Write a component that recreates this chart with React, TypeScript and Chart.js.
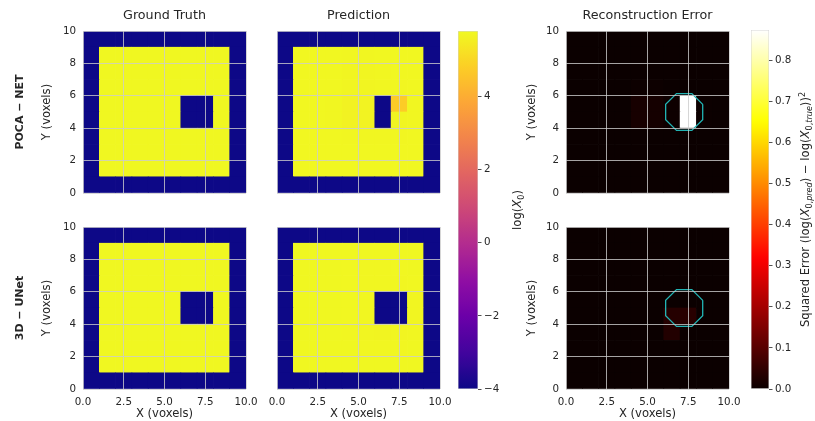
import React, { useEffect, useRef } from 'react';
import { Chart, registerables } from 'chart.js';

Chart.register(...registerables);
Chart.defaults.font.family = '"DejaVu Sans", sans-serif';
Chart.defaults.color = '#262626';

// ---------------- data ----------------
const X_TICKS = [0, 2.5, 5, 7.5, 10];
const Y_TICKS = [0, 2, 4, 6, 8, 10];
const LOGX0_TICKS = [-4, -2, 0, 2, 4];
const ERROR_TICKS = [0, 0.1, 0.2, 0.3, 0.4, 0.5, 0.6, 0.7, 0.8];
const LOGX0_LIMITS = [-4, 5.79];
const ERROR_LIMITS = [0, 0.873];
const VOXEL_LIMITS = [0, 10];

const COLUMN_TITLES = ['Ground Truth', 'Prediction', 'Reconstruction Error'];
const ROW_LABELS = ['POCA \u2212 NET', '3D \u2212 UNet'];
const X_LABEL = 'X (voxels)';
const Y_LABEL = 'Y (voxels)';

// true object outline (circle drawn as an octagon)
const OBJECT_CENTER = [7.25, 5.0];
const OBJECT_RADIUS = 1.23;
const OBJECT_SIDES = 8;

// grids: rows listed from y = 9 (top) down to y = 0 (bottom), columns x = 0..9
const GROUND_TRUTH = [
  [-4, -4, -4, -4, -4, -4, -4, -4, -4, -4],
  [-4, 5.75, 5.75, 5.75, 5.75, 5.75, 5.75, 5.75, 5.75, -4],
  [-4, 5.75, 5.75, 5.75, 5.75, 5.75, 5.75, 5.75, 5.75, -4],
  [-4, 5.75, 5.75, 5.75, 5.75, 5.75, 5.75, 5.75, 5.75, -4],
  [-4, 5.75, 5.75, 5.75, 5.75, 5.75, -4, -4, 5.75, -4],
  [-4, 5.75, 5.75, 5.75, 5.75, 5.75, -4, -4, 5.75, -4],
  [-4, 5.75, 5.75, 5.75, 5.75, 5.75, 5.75, 5.75, 5.75, -4],
  [-4, 5.75, 5.75, 5.75, 5.75, 5.75, 5.75, 5.75, 5.75, -4],
  [-4, 5.75, 5.75, 5.75, 5.75, 5.75, 5.75, 5.75, 5.75, -4],
  [-4, -4, -4, -4, -4, -4, -4, -4, -4, -4],
];

const POCA_PREDICTION = [
  [-4, -4, -4, -4, -4, -4, -4, -4, -4, -4],
  [-4, 5.74, 5.74, 5.74, 5.73, 5.73, 5.74, 5.74, 5.74, -4],
  [-4, 5.74, 5.74, 5.74, 5.71, 5.7, 5.72, 5.74, 5.74, -4],
  [-4, 5.74, 5.74, 5.74, 5.7, 5.69, 5.72, 5.73, 5.74, -4],
  [-4, 5.74, 5.74, 5.73, 5.62, 5.66, -4, 4.75, 5.72, -4],
  [-4, 5.74, 5.74, 5.73, 5.62, 5.66, -4, 5.69, 5.73, -4],
  [-4, 5.74, 5.74, 5.74, 5.72, 5.72, 5.72, 5.73, 5.74, -4],
  [-4, 5.74, 5.74, 5.74, 5.74, 5.74, 5.74, 5.74, 5.74, -4],
  [-4, 5.74, 5.74, 5.74, 5.74, 5.74, 5.74, 5.74, 5.74, -4],
  [-4, -4, -4, -4, -4, -4, -4, -4, -4, -4],
];

const UNET_PREDICTION = [
  [-4, -4, -4, -4, -4, -4, -4, -4, -4, -4],
  [-4, 5.75, 5.75, 5.75, 5.75, 5.75, 5.75, 5.75, 5.75, -4],
  [-4, 5.75, 5.75, 5.75, 5.74, 5.73, 5.73, 5.74, 5.75, -4],
  [-4, 5.75, 5.75, 5.75, 5.74, 5.73, 5.72, 5.72, 5.74, -4],
  [-4, 5.75, 5.75, 5.75, 5.74, 5.73, -4, -4, 5.7, -4],
  [-4, 5.75, 5.75, 5.75, 5.74, 5.72, -4, -4, 5.71, -4],
  [-4, 5.75, 5.75, 5.75, 5.73, 5.71, 5.68, 5.7, 5.73, -4],
  [-4, 5.75, 5.75, 5.75, 5.75, 5.73, 5.72, 5.73, 5.75, -4],
  [-4, 5.75, 5.75, 5.75, 5.75, 5.75, 5.75, 5.75, 5.75, -4],
  [-4, -4, -4, -4, -4, -4, -4, -4, -4, -4],
];

const POCA_ERROR = [
  [0, 0, 0, 0, 0, 0, 0, 0, 0, 0],
  [0, 0, 0, 0, 0, 0, 0, 0, 0, 0],
  [0, 0, 0, 0, 0, 0, 0, 0, 0, 0],
  [0, 0, 0, 0, 0.003, 0.003, 0, 0, 0, 0],
  [0, 0, 0, 0, 0.016, 0.014, 0.004, 0.873, 0.002, 0],
  [0, 0, 0, 0, 0.016, 0.014, 0.004, 0.873, 0.002, 0],
  [0, 0, 0, 0, 0, 0, 0, 0, 0, 0],
  [0, 0, 0, 0, 0, 0, 0, 0, 0, 0],
  [0, 0, 0, 0, 0, 0, 0, 0, 0, 0],
  [0, 0, 0, 0, 0, 0, 0, 0, 0, 0],
];

const UNET_ERROR = [
  [0, 0, 0, 0, 0, 0, 0, 0, 0, 0],
  [0, 0, 0, 0, 0, 0, 0, 0, 0, 0],
  [0, 0, 0, 0, 0, 0, 0, 0, 0, 0],
  [0, 0, 0, 0, 0, 0, 0, 0, 0, 0],
  [0, 0, 0, 0, 0, 0, 0, 0, 0, 0],
  [0, 0, 0, 0, 0, 0, 0.034, 0.038, 0, 0],
  [0, 0, 0, 0, 0, 0, 0.03, 0, 0, 0],
  [0, 0, 0, 0, 0, 0, 0, 0, 0, 0],
  [0, 0, 0, 0, 0, 0, 0, 0, 0, 0],
  [0, 0, 0, 0, 0, 0, 0, 0, 0, 0],
];

// ---------------- style ----------------
const TEXT = '#262626';
const GRID = 'rgba(204,204,204,0.8)';
const OUTLINE = '#22b4b4';
const FONT_TICK = 10.3;
const FONT_LABEL = 11.6;
const FONT_TITLE = 12.7;
const FONT_ROW = 11;

const PLASMA_STOPS = ['#0d0887', '#41049d', '#6a00a8', '#8f0da4', '#b12a90', '#cc4778', '#e16462', '#f2844b', '#fca636', '#fcce25', '#f0f921'];

const clamp = (v: number) => Math.max(0, Math.min(1, v));
const hexRgb = (h: string) => [parseInt(h.slice(1, 3), 16), parseInt(h.slice(3, 5), 16), parseInt(h.slice(5, 7), 16)];
function plasma(t: number): string {
  t = clamp(t);
  const p = t * (PLASMA_STOPS.length - 1);
  const i = Math.min(PLASMA_STOPS.length - 2, Math.floor(p));
  const f = p - i;
  const a = hexRgb(PLASMA_STOPS[i]);
  const b = hexRgb(PLASMA_STOPS[i + 1]);
  const c = a.map((v, k) => Math.round(v + (b[k] - v) * f));
  return `rgb(${c[0]},${c[1]},${c[2]})`;
}
function hot(t: number): string {
  t = clamp(t);
  const r = Math.min(1, 0.0416 + (t / 0.365079) * (1 - 0.0416));
  const g = clamp((t - 0.365079) / (0.746032 - 0.365079));
  const b = clamp((t - 0.746032) / (1 - 0.746032));
  return `rgb(${Math.round(r * 255)},${Math.round(g * 255)},${Math.round(b * 255)})`;
}

function octagon(center: number[], radius: number, sides: number) {
  const pts: { x: number; y: number }[] = [];
  for (let k = 0; k <= sides; k++) {
    const a = Math.PI / sides + (2 * Math.PI * k) / sides;
    pts.push({ x: center[0] + radius * Math.cos(a), y: center[1] + radius * Math.sin(a) });
  }
  return pts;
}

type Seg = { t: string; it?: boolean; sub?: boolean; sup?: boolean };
function drawRich(ctx: CanvasRenderingContext2D, cx: number, cy: number, segs: Seg[], size: number) {
  ctx.save();
  ctx.translate(cx, cy);
  ctx.rotate(-Math.PI / 2);
  ctx.fillStyle = TEXT;
  ctx.textBaseline = 'alphabetic';
  ctx.textAlign = 'left';
  const fontOf = (s: Seg) => `${s.it ? 'italic ' : ''}${(s.sub || s.sup ? 0.7 : 1) * size}px "DejaVu Sans"`;
  const widths = segs.map((s) => {
    ctx.font = fontOf(s);
    return ctx.measureText(s.t).width;
  });
  const total = widths.reduce((a, b) => a + b, 0);
  let x = -total / 2;
  const base = size * 0.3;
  segs.forEach((s, i) => {
    ctx.font = fontOf(s);
    const dy = s.sub ? 0.22 * size : s.sup ? -0.42 * size : 0;
    ctx.fillText(s.t, x, base + dy);
    x += widths[i];
  });
  ctx.restore();
}

const LOGX0_LABEL: Seg[] = [{ t: 'log(' }, { t: 'X', it: true }, { t: '0', sub: true }, { t: ')' }];
const ERROR_LABEL: Seg[] = [
  { t: 'Squared Error (log(' }, { t: 'X', it: true }, { t: '0,', sub: true }, { t: 'pred', sub: true, it: true },
  { t: ') \u2212 log(' }, { t: 'X', it: true }, { t: '0,', sub: true }, { t: 'true', sub: true, it: true },
  { t: '))' }, { t: '2', sup: true },
];

// ---------------- layout ----------------
const PLOT_W = 163;
const PLOT_H = 162;
const RIGHT_PAD = 20;
const COL_PLOT_LEFT = [83, 277, 566];
const COL_CANVAS_LEFT = [0, 257, 510];
const COL_Y_TITLE_PAD = [8, 0, 15];
const ROW_PLOT_TOP = [31, 227];
const ROW_CANVAS_TOP = [0, 208];
const ROW_BOTTOM_H = [16, 32];
const ROW_LABEL_W = 32;

type Box = { left: number; top: number; width: number; height: number };

interface PanelSpec {
  values: number[][];
  cmap: (t: number) => string;
  limits: number[];
  col: number;
  row: number;
  outline: boolean;
}

function panelBox(col: number, row: number): Box {
  const left = COL_CANVAS_LEFT[col];
  const top = ROW_CANVAS_TOP[row];
  return {
    left,
    top,
    width: COL_PLOT_LEFT[col] - left + PLOT_W + RIGHT_PAD,
    height: ROW_PLOT_TOP[row] - top + PLOT_H + ROW_BOTTOM_H[row],
  };
}

function buildPanel(spec: PanelSpec) {
  const [vmin, vmax] = spec.limits;
  const n = spec.values.length;
  const datasets: any[] = [];
  for (let r = 0; r < n; r++) {
    const rowVals = spec.values[n - 1 - r];
    datasets.push({
      type: 'bar',
      data: rowVals.map((_, i) => ({ x: i + 0.5, y: [r, r + 1] })),
      backgroundColor: rowVals.map((v) => spec.cmap((v - vmin) / (vmax - vmin))),
      borderWidth: 0,
      grouped: false,
      barPercentage: 1,
      categoryPercentage: 1,
    });
  }
  if (spec.outline) {
    datasets.push({
      type: 'line',
      data: octagon(OBJECT_CENTER, OBJECT_RADIUS, OBJECT_SIDES),
      borderColor: OUTLINE,
      borderWidth: 1.3,
      pointRadius: 0,
      fill: false,
      tension: 0,
      order: -1,
    });
  }
  const col = spec.col;
  const row = spec.row;
  const leftW = COL_PLOT_LEFT[col] - COL_CANVAS_LEFT[col];
  const hasRowLabel = col === 0;
  const showY = col !== 1;
  const showX = row === 1;
  const scales: any = {
    x: {
      type: 'linear',
      min: VOXEL_LIMITS[0],
      max: VOXEL_LIMITS[1],
      offset: false,
      grid: { color: GRID, lineWidth: 1, drawTicks: false, offset: false, z: 1 },
      border: { display: false },
      afterBuildTicks: (s: any) => { s.ticks = X_TICKS.map((value) => ({ value })); },
      ticks: {
        display: showX, padding: 7.5, color: TEXT, font: { size: FONT_TICK }, maxRotation: 0, autoSkip: false,
        callback: (v: any) => Number(v).toFixed(1),
      },
      title: { display: showX, text: X_LABEL, color: TEXT, font: { size: FONT_LABEL }, padding: { top: 0, bottom: 0 } },
      afterFit: (s: any) => { s.height = ROW_BOTTOM_H[row]; },
    },
    y: {
      type: 'linear',
      position: 'left',
      weight: 0,
      min: VOXEL_LIMITS[0],
      max: VOXEL_LIMITS[1],
      grid: { color: GRID, lineWidth: 1, drawTicks: false, z: 1 },
      border: { display: false },
      afterBuildTicks: (s: any) => { s.ticks = Y_TICKS.map((value) => ({ value })); },
      ticks: { display: showY, padding: 7, color: TEXT, font: { size: FONT_TICK }, callback: (v: any) => String(v) },
      title: { display: showY, text: Y_LABEL, color: TEXT, font: { size: FONT_LABEL }, padding: { top: COL_Y_TITLE_PAD[col], bottom: 0 } },
      afterFit: (s: any) => { s.width = leftW - (hasRowLabel ? ROW_LABEL_W : 0); },
    },
  };
  if (hasRowLabel) {
    scales.yRow = {
      type: 'linear',
      position: 'left',
      weight: 1,
      min: 0,
      max: 1,
      grid: { display: false },
      border: { display: false },
      ticks: { display: false },
      title: { display: true, text: ROW_LABELS[row], color: TEXT, font: { size: FONT_ROW, weight: 'bold' }, padding: { top: 13.4, bottom: 0 } },
      afterFit: (s: any) => { s.width = ROW_LABEL_W; },
    };
  }
  const titleLH = FONT_TITLE * 1.2;
  return {
    type: 'bar',
    data: { datasets },
    options: {
      responsive: false,
      animation: false,
      events: [],
      layout: { padding: { top: row === 0 ? 0 : ROW_PLOT_TOP[row] - ROW_CANVAS_TOP[row], right: RIGHT_PAD, left: 0, bottom: 0 } },
      plugins: {
        legend: { display: false },
        tooltip: { enabled: false },
        title: {
          display: row === 0,
          text: COLUMN_TITLES[col],
          fullSize: false,
          color: TEXT,
          font: { size: FONT_TITLE, weight: 'normal' },
          padding: { top: 8.4, bottom: ROW_PLOT_TOP[0] - 8.4 - titleLH },
        },
      },
      scales,
    },
  };
}

interface ColorbarSpec {
  limits: number[];
  ticks: number[];
  cmap: (t: number) => string;
  fmt: (v: number) => string;
  axisW: number;
  labelOffset: number;
  label: Seg[];
}

function buildColorbar(spec: ColorbarSpec) {
  const [vmin, vmax] = spec.limits;
  return {
    type: 'bar',
    data: {
      labels: [''],
      datasets: [{
        data: [[vmin, vmax]],
        backgroundColor: (c: any) => {
          const chart = c.chart;
          const ys = chart.scales && chart.scales.y;
          if (!ys || !chart.chartArea) return 'rgba(0,0,0,0)';
          const g = chart.ctx.createLinearGradient(0, ys.getPixelForValue(vmin), 0, ys.getPixelForValue(vmax));
          for (let k = 0; k <= 64; k++) g.addColorStop(k / 64, spec.cmap(k / 64));
          return g;
        },
        borderColor: '#d4d4d4',
        borderWidth: 0.8,
        borderSkipped: false,
        barPercentage: 1,
        categoryPercentage: 1,
      }],
    },
    options: {
      responsive: false,
      animation: false,
      events: [],
      layout: { padding: { top: 15, bottom: 15, left: 0, right: 0 } },
      plugins: { legend: { display: false }, tooltip: { enabled: false } },
      scales: {
        x: { display: false },
        y: {
          position: 'right',
          min: vmin,
          max: vmax,
          afterBuildTicks: (s: any) => { s.ticks = spec.ticks.map((value) => ({ value })); },
          grid: { drawOnChartArea: false, drawTicks: true, tickLength: 3.5, color: TEXT, lineWidth: 0.8 },
          border: { display: false },
          ticks: { padding: 2.5, color: TEXT, font: { size: FONT_TICK }, callback: (v: any) => spec.fmt(Number(v)) },
          afterFit: (s: any) => { s.width = spec.axisW; },
        },
      },
    },
    plugins: [{
      id: 'cbLabel',
      afterDraw(chart: any) {
        const ys = chart.scales.y;
        const ca = chart.chartArea;
        drawRich(chart.ctx, ys.left + spec.labelOffset, (ca.top + ca.bottom) / 2, spec.label, FONT_LABEL);
      },
    }],
  };
}

function ChartCanvas({ box, make }: { box: Box; make: () => any }) {
  const ref = useRef<HTMLCanvasElement>(null);
  useEffect(() => {
    const chart = new Chart(ref.current as HTMLCanvasElement, make());
    return () => chart.destroy();
  }, []);
  return (
    <canvas
      ref={ref}
      width={box.width}
      height={box.height}
      style={{ position: 'absolute', left: box.left, top: box.top, width: box.width, height: box.height }}
    />
  );
}

const fmtMinus = (v: number) => (v < 0 ? '\u2212' + Math.abs(v) : String(v));

export default function App() {
  const panels: PanelSpec[] = [
    { values: GROUND_TRUTH, cmap: plasma, limits: LOGX0_LIMITS, col: 0, row: 0, outline: false },
    { values: POCA_PREDICTION, cmap: plasma, limits: LOGX0_LIMITS, col: 1, row: 0, outline: false },
    { values: POCA_ERROR, cmap: hot, limits: ERROR_LIMITS, col: 2, row: 0, outline: true },
    { values: GROUND_TRUTH, cmap: plasma, limits: LOGX0_LIMITS, col: 0, row: 1, outline: false },
    { values: UNET_PREDICTION, cmap: plasma, limits: LOGX0_LIMITS, col: 1, row: 1, outline: false },
    { values: UNET_ERROR, cmap: hot, limits: ERROR_LIMITS, col: 2, row: 1, outline: true },
  ];
  const cb1: ColorbarSpec = {
    limits: LOGX0_LIMITS, ticks: LOGX0_TICKS, cmap: plasma, fmt: fmtMinus, axisW: 55, labelOffset: 40, label: LOGX0_LABEL,
  };
  const cb2: ColorbarSpec = {
    limits: ERROR_LIMITS, ticks: ERROR_TICKS, cmap: hot, fmt: (v) => v.toFixed(1), axisW: 46, labelOffset: 37, label: ERROR_LABEL,
  };
  return (
    <div style={{ position: 'fixed', left: 0, top: 0, width: 815, height: 421, background: '#ffffff', overflow: 'hidden' }}>
      {panels.map((p, i) => (
        <ChartCanvas key={i} box={panelBox(p.col, p.row)} make={() => buildPanel(p)} />
      ))}
      <ChartCanvas box={{ left: 458, top: 16, width: 75, height: 388 }} make={() => buildColorbar(cb1)} />
      <ChartCanvas box={{ left: 751, top: 15, width: 64, height: 389 }} make={() => buildColorbar(cb2)} />
    </div>
  );
}
